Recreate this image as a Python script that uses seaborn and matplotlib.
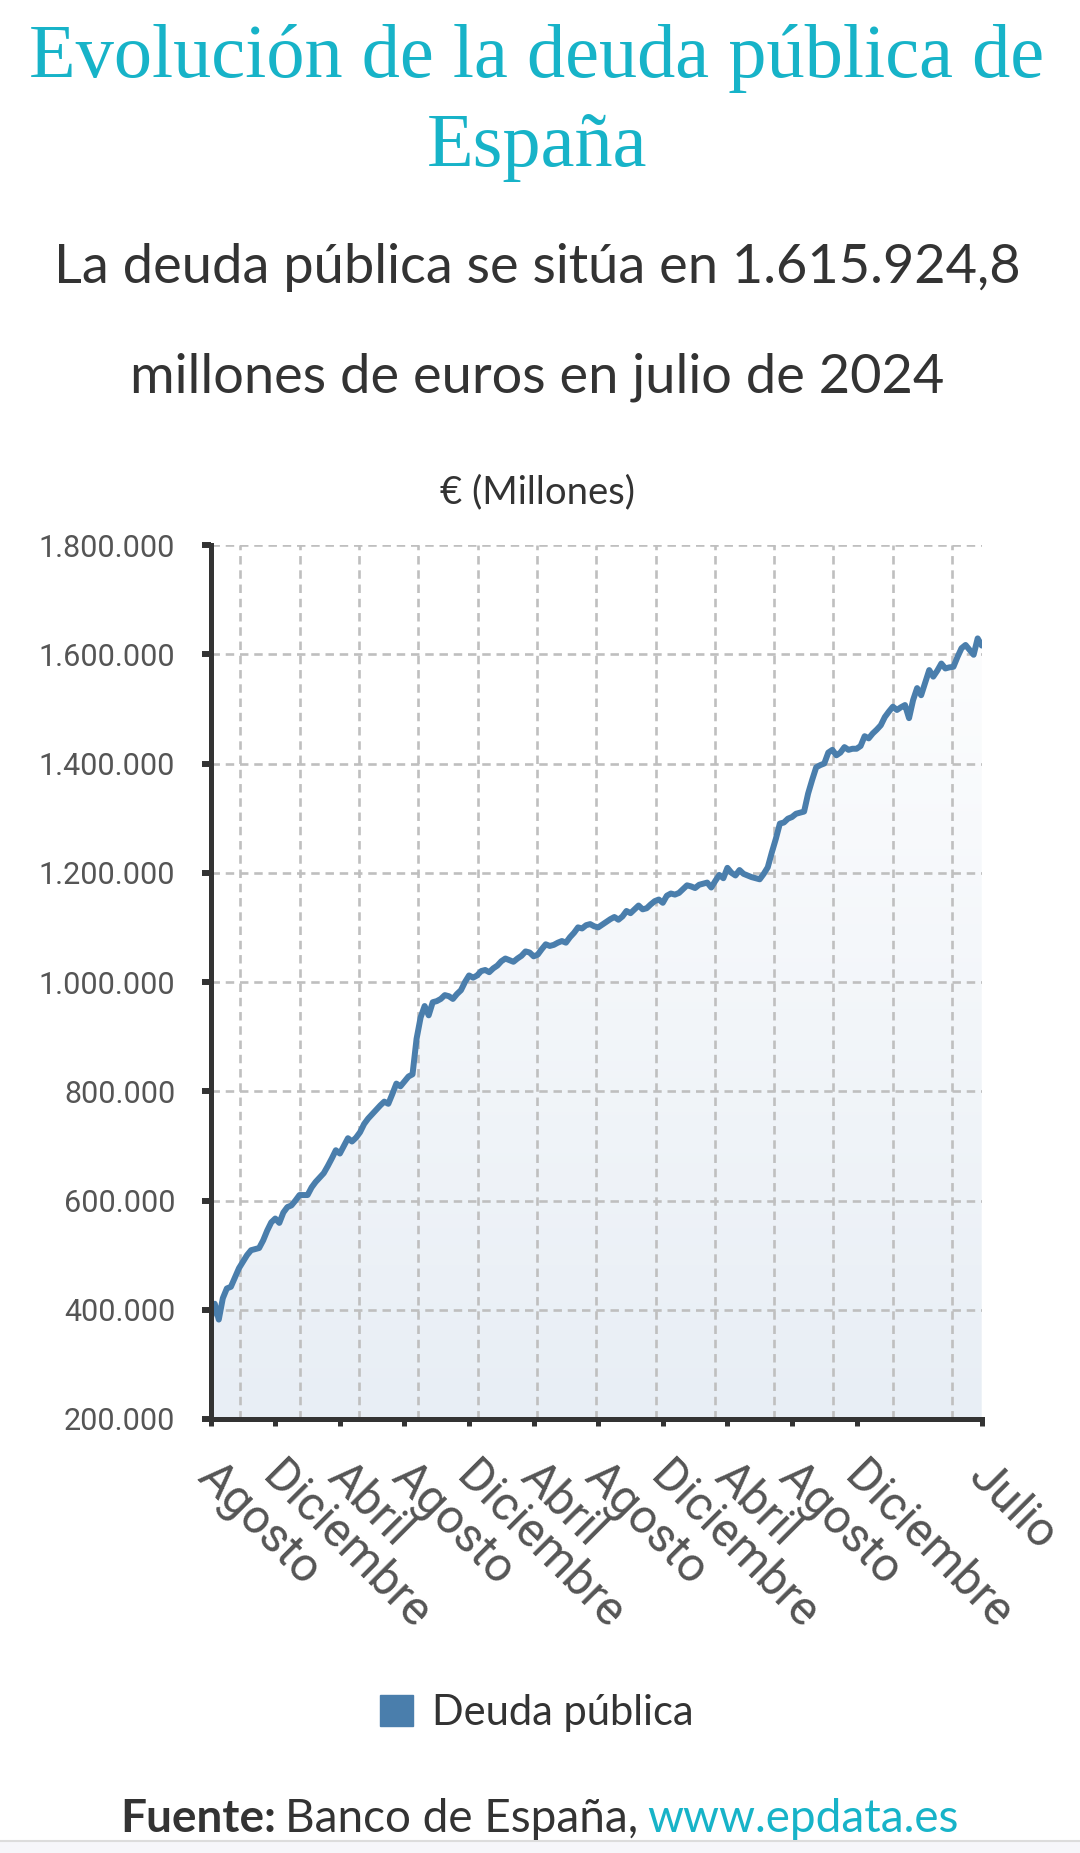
import numpy as np
import matplotlib
matplotlib.use('Agg')
import matplotlib.pyplot as plt
from matplotlib.colors import LinearSegmentedColormap
from matplotlib.patches import Patch, Rectangle
from matplotlib.lines import Line2D
import matplotlib.transforms as mtransforms
import seaborn as sns

# Deuda publica (millones de euros), mensual de agosto 2008 a julio 2024
deuda_2008 = [384000, 411000, 382000, 421000, 439000]
deuda_2009 = [442000, 459000, 476000, 488000, 500000, 509000, 511000, 513000, 527000, 545000, 560000, 567000]
deuda_2010 = [559000, 578000, 588000, 591000, 600000, 610000, 610000, 610000, 624000, 634000, 642000, 650000]
deuda_2011 = [663000, 677000, 692000, 686000, 700000, 714000, 708000, 715000, 725000, 740000, 750000, 758000]
deuda_2012 = [766000, 774000, 781000, 777000, 795000, 814000, 809000, 818000, 827000, 831000, 896000, 935000]
deuda_2013 = [956000, 939000, 963000, 965000, 969000, 976000, 974000, 969000, 978000, 985000, 1000000, 1012000]
deuda_2014 = [1008000, 1012000, 1020000, 1022000, 1018000, 1025000, 1030000, 1038000, 1043000, 1040000, 1037000, 1043000]
deuda_2015 = [1048000, 1056000, 1054000, 1047000, 1050000, 1060000, 1069000, 1066000, 1068000, 1072000, 1075000, 1072000]
deuda_2016 = [1082000, 1090000, 1100000, 1098000, 1104000, 1106000, 1102000, 1100000, 1105000, 1110000, 1115000, 1119000]
deuda_2017 = [1114000, 1120000, 1130000, 1126000, 1133000, 1140000, 1133000, 1135000, 1142000, 1148000, 1151000, 1145000]
deuda_2018 = [1158000, 1162000, 1160000, 1163000, 1170000, 1177000, 1175000, 1172000, 1178000, 1180000, 1182000, 1173000]
deuda_2019 = [1185000, 1196000, 1190000, 1209000, 1200000, 1195000, 1205000, 1198000, 1195000, 1192000, 1190000, 1188000]
deuda_2020 = [1198000, 1210000, 1237000, 1262000, 1290000, 1292000, 1299000, 1302000, 1308000, 1310000, 1312000, 1345000]
deuda_2021 = [1370000, 1393000, 1397000, 1400000, 1420000, 1425000, 1415000, 1420000, 1430000, 1425000, 1427000, 1427000]
deuda_2022 = [1432000, 1450000, 1446000, 1455000, 1462000, 1470000, 1485000, 1495000, 1504000, 1498000, 1503000, 1507000]
deuda_2023 = [1483000, 1516000, 1538000, 1525000, 1548000, 1571000, 1559000, 1570000, 1583000, 1574000, 1576000, 1577000]
deuda_2024 = [1595000, 1611000, 1617000, 1608000, 1599000, 1629000, 1615924.8]

tick_meses = [0, 16, 32, 48, 64, 80, 96, 112, 128, 144, 160, 191]
tick_labels = ['Agosto', 'Diciembre', 'Abril', 'Agosto', 'Diciembre', 'Abril',
               'Agosto', 'Diciembre', 'Abril', 'Agosto', 'Diciembre', 'Julio']
y_ticks = [200000, 400000, 600000, 800000, 1000000, 1200000, 1400000, 1600000, 1800000]

deuda = (deuda_2008 + deuda_2009 + deuda_2010 + deuda_2011 + deuda_2012 + deuda_2013
         + deuda_2014 + deuda_2015 + deuda_2016 + deuda_2017 + deuda_2018 + deuda_2019
         + deuda_2020 + deuda_2021 + deuda_2022 + deuda_2023 + deuda_2024)
meses = np.arange(len(deuda))

sns.set_theme(style='white')
plt.rcParams['font.family'] = ['Lato', 'DejaVu Sans']

W, H = 1080, 1853
fig = plt.figure(figsize=(W / 100, H / 100), dpi=100)
ax = fig.add_axes([210.7 / W, 1 - 1419 / H, 771 / W, 874 / H])

ymin, ymax = 200000, 1800000
xmax = meses[-1]
ax.set_xlim(0, xmax)
ax.set_ylim(ymin, ymax)

# area with vertical gradient
fill = ax.fill_between(meses, deuda, ymin, color='none', lw=0)
cmap = LinearSegmentedColormap.from_list('grad', ['#ffffff', '#e8eef5'])
grad = np.linspace(0, 1, 256).reshape(-1, 1)
im = ax.imshow(grad, cmap=cmap, extent=[0, xmax, ymin, ymax], aspect='auto', zorder=1)
im.set_clip_path(fill.get_paths()[0], transform=ax.transData)

# dashed grid
grid_kw = dict(color='#bfbfbf', lw=1.9, linestyle=(0, (3.2, 2.2)), zorder=2)
xgrid = (np.arange(13) + 0.5) * xmax / 13
for xg in xgrid:
    ax.axvline(xg, **grid_kw)
for yg in y_ticks[1:]:
    ax.axhline(yg, **grid_kw)

sns.lineplot(x=meses, y=deuda, ax=ax, color='#4a7eac', lw=4.3, zorder=4)

for s in ['top', 'right']:
    ax.spines[s].set_visible(False)
for s in ['left', 'bottom']:
    ax.spines[s].set_color('#333333')
    ax.spines[s].set_linewidth(3.6)
    ax.spines[s].set_zorder(5)

ax.set_yticks(y_ticks)
ax.set_yticklabels([f'{v:,.0f}'.replace(',', '.') for v in y_ticks],
                   fontfamily='Roboto', fontsize=22, color='#555555')
ax.tick_params(axis='y', length=6.5, width=4.3, color='#333333', pad=19, left=True)
ax.set_xticks(tick_meses)
ax.set_xticklabels([])
ax.tick_params(axis='x', length=5, width=3.6, color='#333333', bottom=True)
ax.set_xlabel('')
ax.set_ylabel('')

# rotated month labels
lab_tr = mtransforms.offset_copy(ax.get_xaxis_transform(), fig=fig, x=-15, y=-60, units='dots')
for m, lab in zip(tick_meses, tick_labels):
    ax.text(m, 0, lab, transform=lab_tr, rotation=-45, rotation_mode='anchor',
            ha='left', va='baseline', fontfamily='Roboto', fontsize=34.5, color='#555555')

# titles
teal = '#17b3c8'
fig.text(537 / W, 1 - 77 / H, 'Evolución de la deuda pública de', ha='center', va='baseline',
         fontfamily='Liberation Serif', fontsize=55, color=teal)
fig.text(537 / W, 1 - 166 / H, 'España', ha='center', va='baseline',
         fontfamily='Liberation Serif', fontsize=55, color=teal)
fig.text(537 / W, 1 - 283 / H, 'La deuda pública se sitúa en 1.615.924,8', ha='center',
         va='baseline', fontsize=39, color='#333333')
fig.text(537 / W, 1 - 393 / H, 'millones de euros en julio de 2024', ha='center',
         va='baseline', fontsize=39, color='#333333')
fig.text(537 / W, 1 - 503 / H, '€ (Millones)', ha='center', va='baseline',
         fontsize=27.5, color='#333333')

# legend
fig.legend(handles=[Patch(color='#4a7eac')], labels=['Deuda pública'], loc='center',
           bbox_to_anchor=(537 / W, 1 - 1713 / H), frameon=False, fontsize=30,
           handlelength=0.8, handleheight=0.8, handletextpad=0.45, labelcolor='#333333')

# footer
fig.canvas.draw()
rend = fig.canvas.get_renderer()
parts = [('Fuente:', 'bold', '#333333'), ('Banco de España,', 'normal', '#333333'),
         ('www.epdata.es', 'normal', teal)]
texts = [fig.text(0, 1 - 1832 / H, t, fontsize=33, fontweight=w, color=c, va='baseline')
         for t, w, c in parts]
widths = [t.get_window_extent(rend).width for t in texts]
gap = 9
x0 = 539 - (sum(widths) + gap * 2) / 2
for t, wd in zip(texts, widths):
    t.set_x(x0 / W)
    x0 += wd + gap

fig.patches.append(Rectangle((0, 0), 1, 12 / H, transform=fig.transFigure,
                             facecolor='#f6f6fa', edgecolor='none'))
fig.add_artist(Line2D([0, 1], [12 / H, 12 / H], transform=fig.transFigure,
                      color='#dcdcdc', lw=1.5))

fig.savefig('out.png', dpi=100)
